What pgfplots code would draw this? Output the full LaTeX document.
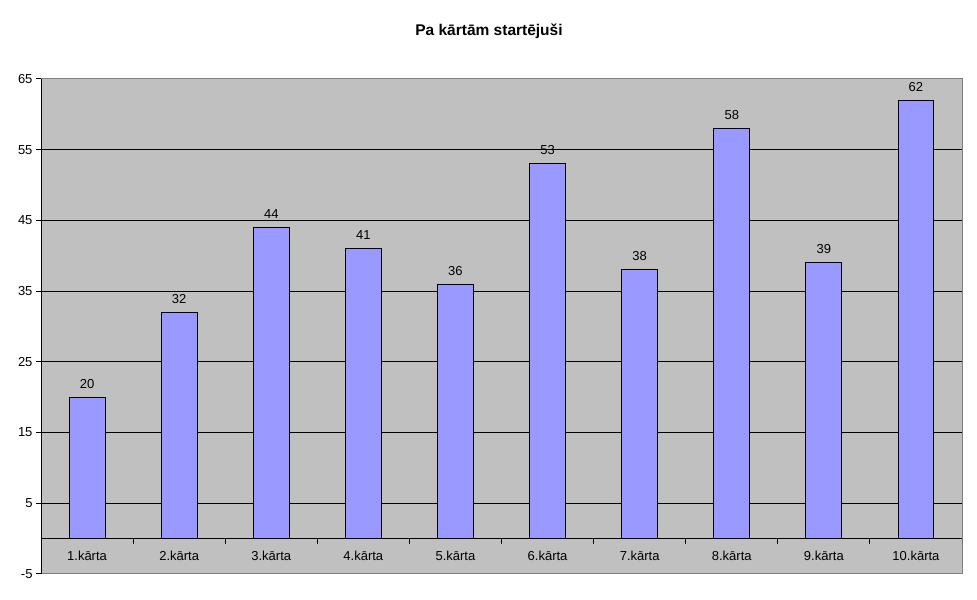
\documentclass[border=0pt]{standalone}
\usepackage{fontspec}
\setmainfont{Liberation Sans}
\usepackage{pgfplots}
\pgfplotsset{compat=1.18}
\definecolor{plotbg}{RGB}{192,192,192}
\definecolor{barc}{RGB}{153,153,255}
\definecolor{brd}{RGB}{128,128,128}
\begin{document}
\begin{tikzpicture}[x=1bp,y=1bp]
\path[use as bounding box] (0,0) rectangle (977,600);
\node[font=\fontsize{15.5bp}{18bp}\selectfont\bfseries] at (489,569) {Pa kārtām startējuši};
\begin{axis}[at={(41bp,26bp)}, anchor=south west, scale only axis,
 width=921bp, height=495bp,
 xmin=-0.5, xmax=9.5, ymin=-5, ymax=65,
 ytick={-5,5,...,65}, ymajorgrids, grid style={black,line width=1bp},
 ytick pos=left,
 xtick={0,...,9},
 xticklabels={1.kārta,2.kārta,3.kārta,4.kārta,5.kārta,6.kārta,7.kārta,8.kārta,9.kārta,10.kārta},
 major x tick style={draw=none},
 xticklabel style={yshift=31bp, font=\fontsize{13bp}{15bp}\selectfont},
 axis background/.style={fill=plotbg},
 axis line style={brd, line width=1bp},
 ytick style={black, line width=1bp}, tick align=outside, major tick length=5bp,
 yticklabel style={font=\fontsize{13bp}{15bp}\selectfont},
 /pgf/number format/assume math mode=true,
 ybar, bar width=0.39,
 nodes near coords,
 nodes near coords style={font=\fontsize{13bp}{15bp}\selectfont, black, yshift=5bp},
 ]
\addplot[fill=barc, draw=black, line width=1bp] coordinates {(0,20)(1,32)(2,44)(3,41)(4,36)(5,53)(6,38)(7,58)(8,39)(9,62)};
\draw[black,line width=1bp] (axis cs:-0.5,0) -- (axis cs:9.5,0);
\pgfplotsinvokeforeach{0.5,1.5,2.5,3.5,4.5,5.5,6.5,7.5,8.5,9.5}{\draw[black,line width=1bp] (axis cs:#1,0) -- ([yshift=-5bp]axis cs:#1,0);}
\draw[brd, line width=1bp] (rel axis cs:0,0) -- (rel axis cs:1,0) -- (rel axis cs:1,1) -- (rel axis cs:0,1);
\draw[black, line width=1bp] (rel axis cs:0,0) -- (rel axis cs:0,1);
\end{axis}
\end{tikzpicture}
\end{document}
